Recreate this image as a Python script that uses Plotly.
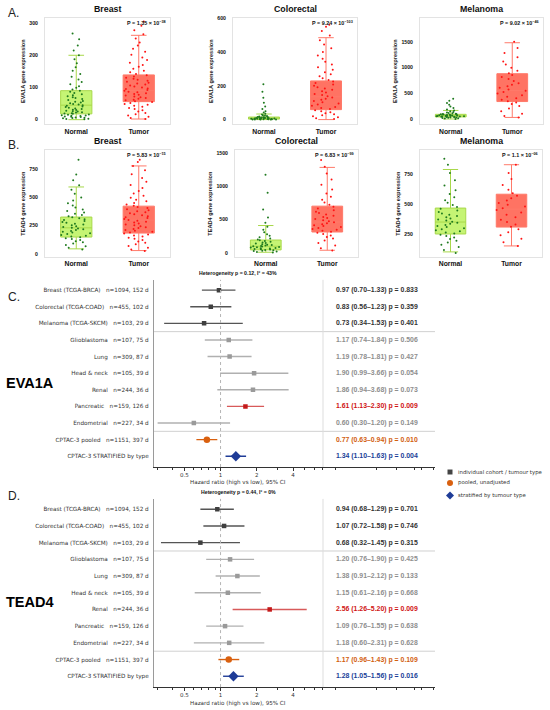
import math
import plotly.graph_objects as go

W, H = 550, 710

GROUPS = ["Normal", "Tumor"]
CANCERS = ["Breast", "Colorectal", "Melanoma"]

eva1a_breast_normal = [0, 18, 45, 90, 200]
eva1a_breast_tumor = [2, 56, 90, 139, 262]
eva1a_colorectal_normal = [0, 3, 8, 15, 33]
eva1a_colorectal_tumor = [0, 59, 135, 229, 485]
eva1a_melanoma_normal = [10, 50, 70, 100, 175]
eva1a_melanoma_tumor = [40, 346, 557, 883, 1480]
tead4_breast_normal = [45, 149, 230, 325, 590]
tead4_breast_tumor = [30, 184, 298, 421, 775]
tead4_colorectal_normal = [10, 45, 100, 193, 410]
tead4_colorectal_tumor = [40, 313, 462, 700, 1280]
tead4_melanoma_normal = [100, 250, 350, 467, 790]
tead4_melanoma_tumor = [150, 308, 458, 583, 830]

# sample points (a readable subset of the jittered dots)
eva1a_breast_normal_pts = [1, 2, 3, 4, 5, 6, 7, 8, 9, 10, 11, 12, 13, 14, 15, 16, 18, 19, 20, 22, 23, 25, 26, 28, 30,
                           31, 33, 35, 37, 39, 41, 43, 45, 47, 49, 51, 53, 56, 58, 61, 64, 67, 70, 73, 76, 79, 83, 87,
                           90, 94, 99, 104, 110, 117, 125, 133, 142, 152, 163, 175, 188, 200, 215, 230, 250, 268]
eva1a_breast_tumor_pts = [2, 5, 9, 13, 17, 21, 25, 29, 33, 36, 40, 43, 46, 49, 52, 55, 57, 60, 62, 65, 67, 70, 72,
                          75, 77, 80, 82, 85, 87, 90, 92, 95, 97, 100, 103, 106, 109, 112, 115, 118, 121, 124, 127,
                          130, 134, 138, 142, 147, 152, 158, 164, 170, 177, 185, 193, 202, 211, 220, 230, 240, 252,
                          265, 278, 292, 305]
eva1a_colorectal_normal_pts = [0, 0, 1, 1, 1, 2, 2, 2, 3, 3, 3, 4, 4, 5, 5, 6, 6, 7, 7, 8, 8, 9, 10, 10, 11, 12, 13,
                               14, 15, 16, 17, 19, 21, 23, 26, 30, 35, 42, 50, 62, 78, 100, 130, 165, 210]
eva1a_colorectal_tumor_pts = [3, 8, 14, 20, 26, 32, 38, 44, 50, 56, 62, 68, 75, 82, 89, 96, 103, 110, 117, 124, 131,
                              138, 145, 152, 160, 168, 176, 184, 192, 200, 208, 217, 226, 235, 245, 256, 268, 281,
                              295, 310, 326, 343, 361, 380, 400, 422, 445, 470, 498, 525, 550, 562]
eva1a_melanoma_normal_pts = [10, 18, 25, 30, 35, 39, 43, 46, 49, 52, 54, 57, 59, 61, 63, 65, 67, 69, 71, 73, 75, 77,
                             79, 81, 84, 87, 90, 93, 96, 100, 104, 108, 113, 119, 126, 135, 145, 158, 175, 195, 220,
                             250, 285, 320, 360, 400]
eva1a_melanoma_tumor_pts = [40, 70, 110, 160, 210, 260, 300, 330, 350, 380, 410, 440, 470, 500, 530, 555, 580, 610,
                            640, 670, 700, 740, 780, 820, 860, 890, 940, 1000, 1060, 1120, 1200, 1280, 1380, 1500]
tead4_breast_normal_pts = [40, 55, 68, 80, 92, 103, 113, 122, 131, 139, 147, 154, 161, 168, 175, 182, 189, 196, 203,
                           210, 217, 224, 231, 238, 245, 252, 259, 266, 274, 282, 290, 298, 306, 314, 323, 332, 342,
                           353, 365, 378, 392, 408, 426, 446, 470, 498, 530, 565, 605, 650, 700, 830]
tead4_breast_tumor_pts = [25, 40, 55, 70, 85, 98, 110, 122, 133, 143, 153, 162, 171, 180, 188, 196, 204, 212, 220,
                          228, 236, 244, 252, 260, 268, 276, 284, 292, 300, 308, 316, 324, 332, 340, 349, 358, 367,
                          376, 385, 394, 404, 414, 424, 436, 449, 463, 478, 495, 513, 533, 555, 580, 607, 636, 668,
                          702, 738, 775, 810, 830]
tead4_colorectal_normal_pts = [8, 15, 22, 28, 34, 40, 45, 50, 55, 60, 65, 70, 75, 80, 85, 90, 95, 100, 105, 111, 117,
                               124, 131, 139, 147, 156, 166, 177, 189, 202, 217, 235, 256, 280, 310, 345, 390, 450,
                               530, 650, 900, 1170]
tead4_colorectal_tumor_pts = [35, 70, 110, 150, 185, 215, 240, 262, 282, 300, 316, 331, 345, 359, 373, 387, 401, 415,
                              430, 445, 460, 475, 490, 506, 522, 539, 557, 576, 596, 617, 640, 665, 692, 720, 755,
                              795, 840, 890, 950, 1020, 1100, 1190, 1290, 1390]
tead4_melanoma_normal_pts = [90, 115, 140, 160, 178, 194, 208, 221, 233, 244, 254, 263, 272, 281, 290, 299, 308, 317,
                             326, 335, 344, 353, 362, 371, 380, 390, 400, 411, 422, 434, 447, 461, 476, 493, 512, 533,
                             557, 585, 617, 655, 700, 760, 830, 880]
tead4_melanoma_tumor_pts = [150, 180, 210, 240, 265, 290, 310, 330, 350, 370, 390, 410, 430, 450, 465, 480, 495,
                            510, 530, 550, 570, 590, 620, 660, 710, 760, 830]

eva1a_p_mant = ["1.35", "9.24", "9.02"]
eva1a_p_exp = ["−38", "−103", "−46"]
tead4_p_mant = ["5.83", "6.83", "1.1"]
tead4_p_exp = ["−15", "−99", "−06"]

# forest plots C/D
forest_labels = ["Breast (TCGA-BRCA)", "Colorectal (TCGA-COAD)", "Melanoma (TCGA-SKCM)", "Glioblastoma", "Lung",
                 "Head & neck", "Renal", "Pancreatic", "Endometrial", "CPTAC-3 pooled", "CPTAC-3 STRATIFIED by type"]
forest_counts = ["n=1094, 152 d", "n=455, 102 d", "n=103, 29 d", "n=107, 75 d", "n=309, 87 d", "n=105, 39 d",
                 "n=244, 36 d", "n=159, 126 d", "n=227, 34 d", "n=1151, 397 d", ""]
forest_kind = ["tcga", "tcga", "tcga", "cptac", "cptac", "cptac", "cptac", "cptac", "cptac", "pooled", "stratified"]

eva1a_hr = [0.97, 0.83, 0.73, 1.17, 1.19, 1.90, 1.86, 1.61, 0.60, 0.77, 1.34]
eva1a_lo = [0.70, 0.56, 0.34, 0.74, 0.78, 0.99, 0.94, 1.13, 0.30, 0.63, 1.10]
eva1a_hi = [1.33, 1.23, 1.53, 1.84, 1.81, 3.66, 3.68, 2.30, 1.20, 0.94, 1.63]
eva1a_p = [0.833, 0.359, 0.401, 0.506, 0.427, 0.054, 0.073, 0.009, 0.149, 0.010, 0.004]
eva1a_het = [0.12, 43]

tead4_hr = [0.94, 1.07, 0.68, 1.20, 1.38, 1.15, 2.56, 1.09, 1.18, 1.17, 1.28]
tead4_lo = [0.68, 0.72, 0.32, 0.76, 0.91, 0.61, 1.26, 0.76, 0.60, 0.96, 1.05]
tead4_hi = [1.29, 1.58, 1.45, 1.90, 2.12, 2.16, 5.20, 1.55, 2.31, 1.43, 1.56]
tead4_p = [0.701, 0.746, 0.315, 0.425, 0.133, 0.668, 0.009, 0.638, 0.628, 0.109, 0.016]
tead4_het = [0.44, 0]

legend_labels = ["individual cohort / tumour type", "pooled, unadjusted", "stratified by tumour type"]


def px(x):
    return x / W


def py(y):
    return 1 - y / H


BOLD = "Liberation Sans"
DJV = "DejaVu Sans"

fig = go.Figure()
annotations = []
shapes = []


def note(x, y, text, font, xanchor="center", yref="paper"):
    # text label placed by pixel x, pixel (or data) y; always vertically centred
    annotations.append(dict(x=px(x), y=py(y) if yref == "paper" else y, xref="paper", yref=yref,
                            xanchor=xanchor, yanchor="middle", showarrow=False, text=text, font=font))


# ---------------- A / B box panels ----------------
normal_style = dict(fill="rgba(178,240,70,0.75)", line="#a8d84a", pts="#1f7a1f")
tumor_style = dict(fill="rgba(255,75,55,0.78)", line="#ff7a6a", pts="#ff1414")

box_rows = [
    ("EVA1A", (15, 122), [(45, 170), (233, 357), (420, 543)],
     [(eva1a_breast_normal, eva1a_breast_tumor, eva1a_breast_normal_pts, eva1a_breast_tumor_pts),
      (eva1a_colorectal_normal, eva1a_colorectal_tumor, eva1a_colorectal_normal_pts, eva1a_colorectal_tumor_pts),
      (eva1a_melanoma_normal, eva1a_melanoma_tumor, eva1a_melanoma_normal_pts, eva1a_melanoma_tumor_pts)],
     eva1a_p_mant, eva1a_p_exp, [[-15, 316], [-29, 602], [-96, 1958]], [100, 200, 500]),
    ("TEAD4", (148, 255), [(45, 170), (235, 358), (420, 542)],
     [(tead4_breast_normal, tead4_breast_tumor, tead4_breast_normal_pts, tead4_breast_tumor_pts),
      (tead4_colorectal_normal, tead4_colorectal_tumor, tead4_colorectal_normal_pts, tead4_colorectal_tumor_pts),
      (tead4_melanoma_normal, tead4_melanoma_tumor, tead4_melanoma_normal_pts, tead4_melanoma_tumor_pts)],
     tead4_p_mant, tead4_p_exp, [[-26, 912], [-60, 1535], [58, 950]], [250, 500, 250]),
]

k = 0
for gene, (top, bot), cols, data, pm, pe, ranges, dticks in box_rows:
    for c, (l, r) in enumerate(cols):
        k += 1
        ax = "" if k == 1 else str(k)
        xa, ya = "x" + ax, "y" + ax
        nstat, tstat, npts, tpts = data[c]
        for grp, st, pts, sty in [("Normal", nstat, npts, normal_style), ("Tumor", tstat, tpts, tumor_style)]:
            fig.add_trace(go.Box(x=[grp], lowerfence=[st[0]], q1=[st[1]], median=[st[2]], q3=[st[3]],
                                 upperfence=[st[4]], width=0.5, fillcolor=sty["fill"],
                                 line=dict(color=sty["line"], width=1), boxpoints=False,
                                 xaxis=xa, yaxis=ya, showlegend=False, hoverinfo="skip"))
            fig.add_trace(go.Box(x=[grp] * len(pts), y=pts, width=0.5, boxpoints="all", jitter=1, pointpos=0,
                                 fillcolor="rgba(0,0,0,0)", line=dict(color="rgba(0,0,0,0)", width=0),
                                 marker=dict(color=sty["pts"], size=2), xaxis=xa, yaxis=ya,
                                 showlegend=False, hoverinfo="skip"))
        fig.update_layout(**{
            "xaxis" + ax: dict(domain=[px(l), px(r)], anchor=ya, range=[-0.5, 1.5], categoryorder="array",
                               categoryarray=GROUPS, showline=True, mirror=True, linecolor="#e3e3e3",
                               showgrid=False, ticks="", tickfont=dict(family=BOLD, size=6.8, color="#111",
                                                                       weight="bold")),
            "yaxis" + ax: dict(domain=[py(bot), py(top)], anchor=xa, range=ranges[c], dtick=dticks[c],
                               showline=True, mirror=True, linecolor="#e3e3e3", showgrid=False, zeroline=False,
                               ticks="", ticklabelstandoff=5,
                               tickfont=dict(family=BOLD, size=5.2, color="#111", weight="bold"),
                               title=dict(text=f"{gene} gene expression", standoff=3,
                                          font=dict(family=BOLD, size=5.6, color="#222", weight="bold"))),
        })
        note((l + r) / 2, top - 9, CANCERS[c], dict(family=BOLD, size=8.8, color="#111", weight="bold"))
        note(r - 2, top + 5, f"P = {pm[c]} × 10<sup>{pe[c]}</sup>",
             dict(family=BOLD, size=5.4, color="#111", weight="bold"), xanchor="right")

# ---------------- C / D forest panels ----------------
kind_style = {
    "tcga": dict(marker="#3f3f3f", line="#555555", text="#333333", symbol="square", size=4.5),
    "cptac": dict(marker="#9a9a9a", line="#b0b0b0", text="#8e8e8e", symbol="square", size=4.5),
    "sig": dict(marker="#c41a1a", line="#d85a5a", text="#d01313", symbol="square", size=4.5),
    "pooled": dict(marker="#d9600f", line="#d9600f", text="#d2600f", symbol="circle", size=6.5),
    "stratified": dict(marker="#1f3c97", line="#1f3c97", text="#203e98", symbol="diamond", size=8),
}


def forest(gene, hr, lo, hi, pv, het, n, top, bot, gene_y, letter, letter_y):
    xa, ya, xt = f"x{n}", f"y{n}", f"x{n + 1}"
    for i in range(len(hr)):
        kind = forest_kind[i]
        if kind == "cptac" and pv[i] < 0.05:
            kind = "sig"
        s = kind_style[kind]
        fig.add_trace(go.Scatter(
            x=[hr[i]], y=[i], mode="markers", xaxis=xa, yaxis=ya, showlegend=False, hoverinfo="skip",
            marker=dict(symbol=s["symbol"], size=s["size"], color=s["marker"], line=dict(width=0)),
            error_x=dict(type="data", symmetric=False, array=[hi[i] - hr[i]], arrayminus=[hr[i] - lo[i]],
                         color=s["line"], thickness=1.4, width=0)))
        note(334, i, f"{hr[i]:.2f} ({lo[i]:.2f}–{hi[i]:.2f}) p = {pv[i]:.3f}",
             dict(family=BOLD, size=6.9, color=s["text"], weight="bold"), xanchor="left", yref=ya)
    fig.add_trace(go.Scatter(x=[0.5], y=[None], xaxis=xt, yaxis=ya, showlegend=False, hoverinfo="skip"))
    ticktext = [f"{a}\u00a0\u00a0\u00a0{b}" if b else a for a, b in zip(forest_labels, forest_counts)]
    fig.update_layout(**{
        "xaxis" + str(n): dict(domain=[px(154), px(323)], anchor=ya, type="log",
                               range=[math.log10(0.28), math.log10(7.1)], tickvals=[0.5, 1, 2, 4],
                               ticktext=["0.5", "1", "2", "4"], ticks="outside", ticklen=3, tickcolor="#333",
                               showline=True, linecolor="#333", linewidth=1, showgrid=False, zeroline=False,
                               ticklabelstandoff=-1, tickfont=dict(family=DJV, size=5.5, color="#333"),
                               minor=dict(tickvals=[0.3, 0.4, 0.6, 0.7, 0.8, 0.9, 3, 5, 6, 7], ticks="outside",
                                          ticklen=1.5, tickcolor="#333", showgrid=False)),
        "xaxis" + str(n + 1): dict(domain=[px(323), px(435)], anchor=ya, range=[0, 1], showline=True,
                                   linecolor="#333", linewidth=1, ticks="outside", ticklen=2, tickcolor="#333",
                                   tickvals=[0.11, 0.48, 0.66, 0.82, 0.88, 0.99], showticklabels=False,
                                   showgrid=False, zeroline=False),
        "yaxis" + str(n): dict(domain=[py(bot), py(top)], anchor=xa, range=[10.65, -0.62],
                               tickvals=list(range(len(hr))), ticktext=ticktext, ticks="", showgrid=False,
                               zeroline=False, showline=True, linecolor="#9a9a9a", linewidth=1.3,
                               ticklabelstandoff=3, tickfont=dict(family=DJV, size=5.7, color="#333")),
    })
    for yb in [2.5, 8.5]:
        shapes.append(dict(type="line", xref="paper", yref=ya, x0=px(154), x1=px(435), y0=yb, y1=yb,
                           line=dict(color="#d0d0d0", width=1)))
    shapes.append(dict(type="line", xref=xa, yref=ya + " domain", x0=1, x1=1, y0=0, y1=1,
                       line=dict(color="#b5b5b5", width=1, dash="dot")))
    shapes.append(dict(type="line", xref="paper", yref=ya + " domain", x0=px(323), x1=px(323), y0=0, y1=1,
                       line=dict(color="#dddddd", width=1)))
    note(238, bot + 16, "Hazard ratio (high vs low), 95% CI", dict(family=DJV, size=5.6, color="#333"))
    note(238, top - 7, f"Heterogeneity p = {het[0]:.2f}, I² = {het[1]}%",
         dict(family=BOLD, size=5.2, color="#111", weight="bold"))
    note(4, gene_y, gene, dict(family=BOLD, size=14.5, color="#000", weight="bold"), xanchor="left")
    note(6, letter_y, letter, dict(family=BOLD, size=12, color="#222"), xanchor="left")


forest("EVA1A", eva1a_hr, eva1a_lo, eva1a_hi, eva1a_p, eva1a_het, 7, 278, 466, 382, "C.", 295)
forest("TEAD4", tead4_hr, tead4_lo, tead4_hi, tead4_p, tead4_het, 9, 498, 687, 602, "D.", 495)

for letter, yl in [("A.", 10), ("B.", 143)]:
    note(6, yl, letter, dict(family=BOLD, size=12, color="#222"), xanchor="left")

# manual legend next to panel C
leg_y = [471, 482, 494.5]
shapes.append(dict(type="rect", xref="paper", yref="paper", x0=px(447.5), x1=px(452.5), y0=py(leg_y[0] + 2.5),
                   y1=py(leg_y[0] - 2.5), fillcolor="#444", line=dict(width=0)))
shapes.append(dict(type="circle", xref="paper", yref="paper", x0=px(447), x1=px(453), y0=py(leg_y[1] + 3),
                   y1=py(leg_y[1] - 3), fillcolor="#d9600f", line=dict(width=0)))
cx, cy = 450, leg_y[2]
shapes.append(dict(type="path", xref="paper", yref="paper", fillcolor="#1f3c97", line=dict(width=0),
                   path=f"M {px(cx)} {py(cy - 4)} L {px(cx + 4)} {py(cy)} L {px(cx)} {py(cy + 4)} "
                        f"L {px(cx - 4)} {py(cy)} Z"))
for lab, yl in zip(legend_labels, leg_y):
    note(456, yl, lab, dict(family=DJV, size=5.4, color="#333"), xanchor="left")

fig.update_layout(width=W, height=H, margin=dict(l=0, r=0, t=0, b=0), paper_bgcolor="white",
                  plot_bgcolor="white", boxmode="overlay", annotations=annotations, shapes=shapes,
                  showlegend=False)

# drop the default page margin so the figure sits at the window origin
fig.write_html("out.html", config={"displayModeBar": False},
               post_script="document.body.style.margin='0';")
